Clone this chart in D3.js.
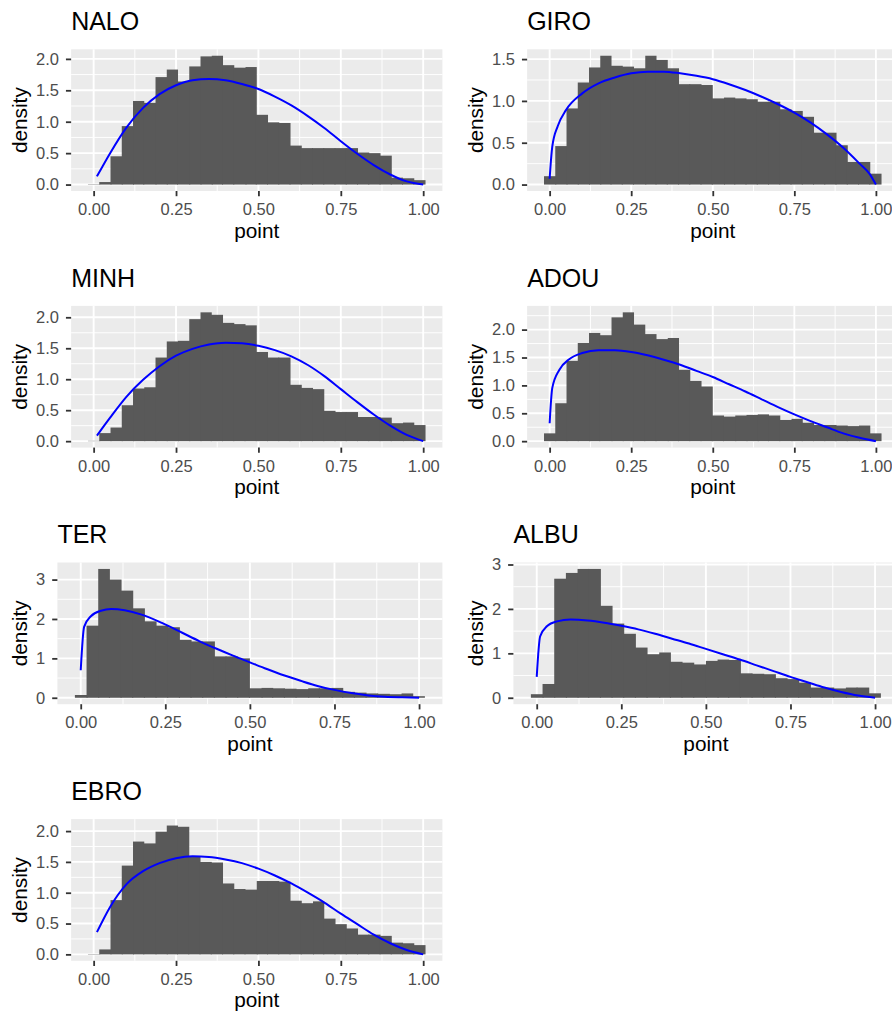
<!DOCTYPE html>
<html>
<head>
<meta charset="utf-8">
<script src="https://cdn.jsdelivr.net/npm/d3@7/dist/d3.min.js"></script>
<style>
    body { margin: 0; background: #ffffff; }
    svg { display: block; font-family: "Liberation Sans", Arial, Helvetica, sans-serif; }
</style>
</head>
<body>
<script>
//site names, one histogram per site
var sites = ["NALO", "GIRO", "MINH", "ADOU", "TER", "ALBU", "EBRO"];

//smallest observed point per site (sets the 30-bin width)
var dataMin = [0.01, 0, 0.01, 0, 0, 0, 0.01];

//histogram densities, 30 bins each
var naloDensity = [0.005, 0.04, 0.45, 0.93, 1.33, 1.30, 1.71, 1.83, 1.64, 1.88, 2.04, 2.05, 1.90, 1.86, 1.87, 1.11, 0.99, 0.98, 0.62, 0.58, 0.58, 0.58, 0.58, 0.58, 0.51, 0.50, 0.46, 0.11, 0.10, 0.07];
var giroDensity = [0.10, 0.46, 0.91, 1.22, 1.40, 1.54, 1.42, 1.41, 1.39, 1.54, 1.49, 1.39, 1.20, 1.20, 1.19, 1.03, 1.04, 1.03, 1.02, 0.99, 0.99, 0.90, 0.88, 0.81, 0.62, 0.62, 0.47, 0.27, 0.27, 0.13];
var minhDensity = [0.005, 0.13, 0.22, 0.58, 0.85, 0.87, 1.35, 1.61, 1.62, 1.97, 2.08, 2.04, 1.91, 1.89, 1.87, 1.44, 1.35, 1.35, 0.91, 0.86, 0.84, 0.49, 0.47, 0.47, 0.39, 0.39, 0.38, 0.29, 0.30, 0.26];
var adouDensity = [0.14, 0.68, 1.44, 1.76, 1.94, 1.90, 2.22, 2.31, 2.09, 1.92, 1.83, 1.85, 1.28, 1.08, 0.98, 0.46, 0.44, 0.46, 0.47, 0.48, 0.46, 0.38, 0.40, 0.33, 0.29, 0.29, 0.28, 0.27, 0.28, 0.14];
var terDensity = [0.07, 1.83, 3.27, 3.00, 2.72, 2.27, 1.94, 1.83, 1.79, 1.47, 1.43, 1.43, 1.05, 1.05, 1.00, 0.24, 0.25, 0.24, 0.23, 0.22, 0.24, 0.24, 0.25, 0.15, 0.13, 0.11, 0.10, 0.09, 0.11, 0.04];
var albuDensity = [0.08, 0.31, 2.68, 2.81, 2.90, 2.90, 2.07, 1.67, 1.44, 1.13, 0.98, 1.02, 0.81, 0.79, 0.75, 0.83, 0.86, 0.85, 0.55, 0.54, 0.53, 0.44, 0.42, 0.34, 0.23, 0.23, 0.21, 0.23, 0.23, 0.10];
var ebroDensity = [0.005, 0.08, 0.88, 1.44, 1.83, 1.80, 1.99, 2.09, 2.07, 1.58, 1.50, 1.49, 1.15, 1.06, 1.05, 1.19, 1.19, 1.18, 0.87, 0.83, 0.86, 0.58, 0.49, 0.42, 0.32, 0.32, 0.30, 0.19, 0.18, 0.15];

//fitted density curves, [point, density] pairs
var naloCurve = [[0.01, 0.13], [0.05, 0.50], [0.10, 0.91], [0.15, 1.22], [0.20, 1.44], [0.25, 1.58], [0.30, 1.66], [0.35, 1.68], [0.40, 1.66], [0.45, 1.60], [0.50, 1.52], [0.55, 1.40], [0.60, 1.26], [0.65, 1.09], [0.70, 0.90], [0.75, 0.69], [0.80, 0.49], [0.85, 0.31], [0.90, 0.16], [0.95, 0.05], [1.00, 0.00]];
var giroCurve = [[0.0, 0.07], [0.008, 0.45], [0.025, 0.70], [0.05, 0.89], [0.10, 1.09], [0.15, 1.21], [0.20, 1.28], [0.25, 1.33], [0.30, 1.35], [0.35, 1.35], [0.40, 1.33], [0.45, 1.30], [0.50, 1.26], [0.55, 1.20], [0.60, 1.13], [0.65, 1.05], [0.70, 0.96], [0.75, 0.86], [0.80, 0.74], [0.85, 0.60], [0.90, 0.44], [0.95, 0.25], [0.98, 0.13], [1.00, 0.00]];
var minhCurve = [[0.01, 0.09], [0.05, 0.38], [0.10, 0.72], [0.15, 0.99], [0.20, 1.21], [0.25, 1.38], [0.30, 1.49], [0.35, 1.56], [0.40, 1.59], [0.45, 1.58], [0.50, 1.54], [0.55, 1.47], [0.60, 1.37], [0.65, 1.23], [0.70, 1.05], [0.75, 0.84], [0.80, 0.63], [0.85, 0.43], [0.90, 0.25], [0.95, 0.10], [1.00, 0.00]];
var adouCurve = [[0.0, 0.32], [0.008, 0.95], [0.03, 1.28], [0.06, 1.47], [0.10, 1.58], [0.15, 1.63], [0.20, 1.63], [0.25, 1.60], [0.30, 1.54], [0.35, 1.46], [0.40, 1.37], [0.45, 1.26], [0.50, 1.15], [0.55, 1.02], [0.60, 0.89], [0.65, 0.75], [0.70, 0.61], [0.75, 0.48], [0.80, 0.36], [0.85, 0.25], [0.90, 0.14], [0.95, 0.06], [1.00, 0.00]];
var terCurve = [[0.0, 0.70], [0.01, 1.80], [0.03, 2.07], [0.06, 2.21], [0.09, 2.25], [0.13, 2.22], [0.18, 2.11], [0.24, 1.90], [0.30, 1.65], [0.35, 1.44], [0.40, 1.25], [0.45, 1.07], [0.50, 0.90], [0.55, 0.73], [0.60, 0.57], [0.65, 0.43], [0.70, 0.30], [0.75, 0.20], [0.80, 0.12], [0.85, 0.06], [0.90, 0.025], [0.95, 0.01], [1.00, 0.00]];
var albuCurve = [[0.0, 0.47], [0.01, 1.38], [0.03, 1.61], [0.06, 1.72], [0.10, 1.76], [0.15, 1.74], [0.20, 1.69], [0.25, 1.62], [0.30, 1.54], [0.35, 1.44], [0.40, 1.33], [0.45, 1.22], [0.50, 1.10], [0.55, 0.98], [0.60, 0.86], [0.65, 0.73], [0.70, 0.60], [0.75, 0.47], [0.80, 0.35], [0.85, 0.23], [0.90, 0.13], [0.95, 0.05], [1.00, 0.00]];
var ebroCurve = [[0.01, 0.36], [0.05, 0.77], [0.10, 1.14], [0.15, 1.35], [0.20, 1.48], [0.25, 1.56], [0.30, 1.59], [0.35, 1.58], [0.40, 1.54], [0.45, 1.48], [0.50, 1.39], [0.55, 1.28], [0.60, 1.15], [0.65, 1.00], [0.70, 0.84], [0.75, 0.66], [0.80, 0.49], [0.85, 0.32], [0.90, 0.18], [0.95, 0.07], [1.00, 0.00]];

//tick labels
var xTicks = [0, 0.25, 0.5, 0.75, 1];
var yTicksHalf = [0, 0.5, 1, 1.5, 2];
var yTicksGiro = [0, 0.5, 1, 1.5];
var yTicksWhole = [0, 1, 2, 3];

var densities = [naloDensity, giroDensity, minhDensity, adouDensity, terDensity, albuDensity, ebroDensity];
var curves = [naloCurve, giroCurve, minhCurve, adouCurve, terCurve, albuCurve, ebroCurve];
var yTicks = [yTicksHalf, yTicksGiro, yTicksHalf, yTicksHalf, yTicksWhole, yTicksWhole, yTicksHalf];

setCharts();

function setCharts() {
    var width = 892,
        height = 1012;

    //layout of one ggplot cell (column origin, row step, panel box)
    var colX = [0, 456],
        rowStep = 256.6,
        panelTop = 49.3,
        panelBottom = 191,
        panelRight = 442.4,
        labelBase = 36,
        tickLen = 5.2,
        tickPad = 7;

    var svg = d3.select("body")
        .append("svg")
        .attr("width", width)
        .attr("height", height);

    sites.forEach(function(site, i) {
        var col = i % 2,
            row = Math.floor(i / 2);
        var g = svg.append("g")
            .attr("transform", "translate(" + colX[col] + "," + (row * rowStep) + ")");

        //bins centred on multiples of the bin width, like geom_histogram(bins = 30)
        var vals = densities[i];
        var nb = vals.length;
        var bw = (1 - dataMin[i]) / (nb - 1);
        var bars = vals.map(function(d, k) {
            return {
                x0: (k - 0.5) * bw,
                x1: (k + 0.5) * bw,
                y: d,
                //a shorter bar tucks 1px under its taller neighbour to hide seams
                padL: k > 0 && vals[k - 1] >= d ? 1 : 0,
                padR: k < nb - 1 && vals[k + 1] > d ? 1 : 0
            };
        });
        var curve = curves[i];

        //scale limits with ggplot's 5% expansion
        var xLo = Math.min(bars[0].x0, curve[0][0]),
            xHi = Math.max(bars[nb - 1].x1, curve[curve.length - 1][0]),
            xPad = (xHi - xLo) * 0.05;
        var yMax = Math.max(d3.max(vals), d3.max(curve, function(d) { return d[1]; })),
            yPad = yMax * 0.05;

        var y = d3.scaleLinear()
            .domain([-yPad, yMax + yPad])
            .range([panelBottom, panelTop]);

        var panel = g.append("g");

        //y axis first, so the panel can start after the widest label
        var ticksY = yTicks[i];
        var wholeSteps = ticksY.every(function(t) { return t === Math.round(t); });
        var yAxis = d3.axisLeft(y)
            .tickValues(ticksY)
            .tickFormat(d3.format(wholeSteps ? "d" : ".1f"))
            .tickSize(tickLen)
            .tickPadding(tickPad);
        var yAxisG = g.append("g").call(yAxis);
        styleAxis(yAxisG);
        var labelW = d3.max(yAxisG.selectAll("text").nodes(), function(n) { return n.getComputedTextLength(); });
        var left = labelBase + labelW + tickLen + tickPad;
        yAxisG.attr("transform", "translate(" + left + ",0)");

        var x = d3.scaleLinear()
            .domain([xLo - xPad, xHi + xPad])
            .range([left, panelRight]);

        //panel background
        panel.append("rect")
            .attr("x", left)
            .attr("y", panelTop)
            .attr("width", panelRight - left)
            .attr("height", panelBottom - panelTop)
            .attr("fill", "#ebebeb");

        //grid lines, minor between majors
        var xMinor = minorBreaks(xTicks, x.domain()),
            yMinor = minorBreaks(ticksY, y.domain());
        panel.selectAll(".xMinor")
            .data(xMinor)
            .enter()
            .append("line")
            .attr("x1", function(d) { return x(d); })
            .attr("x2", function(d) { return x(d); })
            .attr("y1", panelTop)
            .attr("y2", panelBottom)
            .attr("stroke", "#ffffff")
            .attr("stroke-width", 0.95);
        panel.selectAll(".yMinor")
            .data(yMinor)
            .enter()
            .append("line")
            .attr("x1", left)
            .attr("x2", panelRight)
            .attr("y1", function(d) { return y(d); })
            .attr("y2", function(d) { return y(d); })
            .attr("stroke", "#ffffff")
            .attr("stroke-width", 0.95);
        panel.selectAll(".xMajor")
            .data(xTicks)
            .enter()
            .append("line")
            .attr("x1", function(d) { return x(d); })
            .attr("x2", function(d) { return x(d); })
            .attr("y1", panelTop)
            .attr("y2", panelBottom)
            .attr("stroke", "#ffffff")
            .attr("stroke-width", 1.9);
        panel.selectAll(".yMajor")
            .data(ticksY)
            .enter()
            .append("line")
            .attr("x1", left)
            .attr("x2", panelRight)
            .attr("y1", function(d) { return y(d); })
            .attr("y2", function(d) { return y(d); })
            .attr("stroke", "#ffffff")
            .attr("stroke-width", 1.9);

        //clip marks to the panel
        var clipId = "clip" + i;
        g.append("clipPath")
            .attr("id", clipId)
            .append("rect")
            .attr("x", left)
            .attr("y", panelTop)
            .attr("width", panelRight - left)
            .attr("height", panelBottom - panelTop);

        var marks = panel.append("g").attr("clip-path", "url(#" + clipId + ")");

        //histogram bars
        marks.selectAll(".bar")
            .data(bars)
            .enter()
            .append("rect")
            .attr("class", "bar")
            .attr("x", function(d) { return x(d.x0) - d.padL; })
            .attr("width", function(d) { return x(d.x1) - x(d.x0) + d.padL + d.padR; })
            .attr("y", function(d) { return y(d.y); })
            .attr("height", function(d) { return y(0) - y(d.y); })
            .attr("fill", "#595959");

        //fitted density curve
        var line = d3.line()
            .x(function(d) { return x(d[0]); })
            .y(function(d) { return y(d[1]); })
            .curve(d3.curveMonotoneX);
        marks.append("path")
            .datum(curve)
            .attr("d", line)
            .attr("fill", "none")
            .attr("stroke", "#0000ff")
            .attr("stroke-width", 2);

        //x axis
        var xAxis = d3.axisBottom(x)
            .tickValues(xTicks)
            .tickFormat(d3.format(".2f"))
            .tickSize(tickLen)
            .tickPadding(tickPad);
        var xAxisG = g.append("g")
            .attr("transform", "translate(0," + panelBottom + ")")
            .call(xAxis);
        styleAxis(xAxisG);

        //titles
        g.append("text")
            .attr("x", left)
            .attr("y", 30)
            .attr("font-size", 25)
            .attr("fill", "#000000")
            .text(site);

        g.append("text")
            .attr("transform", "translate(26.5," + ((panelTop + panelBottom) / 2) + ") rotate(-90)")
            .attr("text-anchor", "middle")
            .attr("font-size", 20.8)
            .attr("fill", "#000000")
            .text("density");

        g.append("text")
            .attr("x", (left + panelRight) / 2)
            .attr("y", panelBottom + 46.7)
            .attr("text-anchor", "middle")
            .attr("font-size", 20.8)
            .attr("fill", "#000000")
            .text("point");
    });

    function styleAxis(sel) {
        sel.attr("font-family", null).attr("font-size", null);
        sel.select(".domain").remove();
        sel.selectAll(".tick line")
            .attr("stroke", "#333333")
            .attr("stroke-width", 1.8);
        sel.selectAll(".tick text")
            .attr("fill", "#4d4d4d")
            .attr("font-size", 16.5);
    }

    function minorBreaks(ticks, domain) {
        var step = ticks[1] - ticks[0],
            out = [];
        for (var v = ticks[0] - step / 2; v <= ticks[ticks.length - 1] + step / 2 + 1e-9; v += step) {
            if (v > domain[0] && v < domain[1]) out.push(v);
        }
        return out;
    }
}
</script>
</body>
</html>
